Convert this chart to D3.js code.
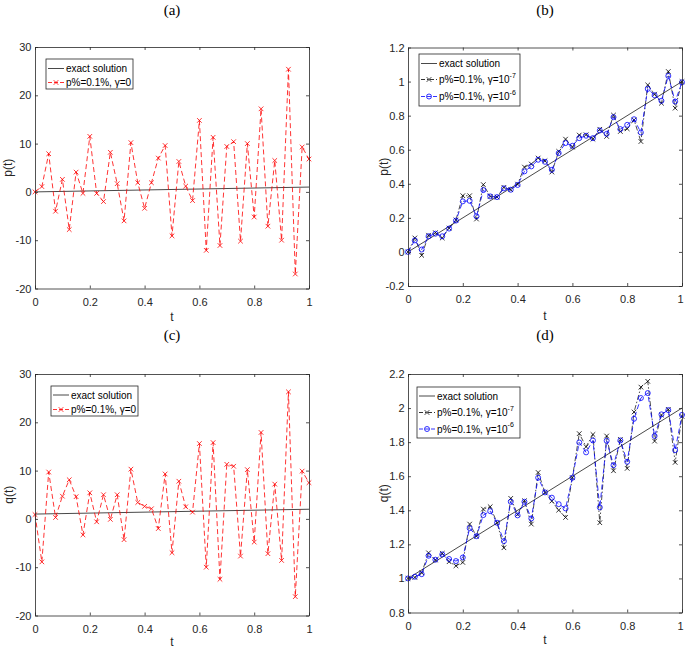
<!DOCTYPE html>
<html><head><meta charset="utf-8">
<script src="https://cdn.jsdelivr.net/npm/d3@7"></script>
<style>html,body{margin:0;padding:0;background:#fff}</style>
</head><body>
<svg id="chart" width="685" height="648"></svg>
<script>
// ---------------- DATA ----------------
const tValues = [0,0.025,0.05,0.075,0.1,0.125,0.15,0.175,0.2,0.225,0.25,0.275,0.3,0.325,0.35,0.375,0.4,0.425,0.45,0.475,0.5,
                 0.525,0.55,0.575,0.6,0.625,0.65,0.675,0.7,0.725,0.75,0.775,0.8,0.825,0.85,0.875,0.9,0.925,0.95,0.975,1];
const xTicks = [0,0.2,0.4,0.6,0.8,1];
const xTickLabels = ["0","0.2","0.4","0.6","0.8","1"];
const exactT = [0,1];
const exactP = [0,1];
const exactQ = [1,2];
// (a) p(t), p%=0.1%, gamma=0
const pNoReg = [0,1.1,7.9,-4.0,2.6,-7.8,4.1,-0.3,11.5,-0.3,-2.0,8.2,1.7,-6.0,10.2,1.9,-3.4,1.9,7.0,9.6,-9.1,
                6.3,1.2,-1.8,14.8,-12.1,11.3,-11.1,9.4,10.4,-10.2,10.0,-5.2,17.2,-7.1,6.5,-10.0,25.4,-17.0,9.3,6.8];
// (c) q(t), p%=0.1%, gamma=0
const qNoReg = [0.9,-8.9,9.7,0.3,4.7,8.1,4.6,-3.3,5.4,-0.6,5.0,-0.1,5.0,-4.3,10.3,3.4,2.6,2.1,-2.0,9.3,-7.0,
                7.8,2.5,1.4,15.6,-10.0,15.8,-12.5,11.3,10.9,-7.7,10.2,-4.8,17.9,-7.2,7.2,-8.6,26.3,-16.1,9.9,7.5];
// (b) p(t), gamma=1e-7 and 1e-6
const pGamma7 = [0,0.082,-0.02,0.098,0.113,0.082,0.14,0.188,0.33,0.33,0.193,0.395,0.326,0.322,0.379,0.365,0.398,0.498,0.516,
                 0.551,0.535,0.469,0.59,0.662,0.615,0.686,0.688,0.662,0.72,0.678,0.803,0.707,0.723,0.775,0.648,0.98,0.926,0.873,1.059,0.844,1.0];
const pGamma6 = [0,0.068,0.014,0.092,0.107,0.092,0.137,0.184,0.297,0.30,0.209,0.363,0.326,0.322,0.373,0.365,0.393,0.473,0.502,
                 0.541,0.529,0.482,0.58,0.639,0.623,0.668,0.682,0.668,0.713,0.693,0.791,0.721,0.746,0.779,0.701,0.957,0.92,0.887,1.033,0.883,0.996];
// (d) q(t), gamma=1e-7 and 1e-6
const qGamma7 = [1.0,1.006,1.033,1.15,1.108,1.147,1.098,1.074,1.094,1.319,1.248,1.407,1.421,1.327,1.18,1.47,1.376,1.456,
                 1.319,1.622,1.505,1.454,1.401,1.358,1.591,1.85,1.773,1.845,1.327,1.836,1.632,1.816,1.646,1.977,2.123,2.157,1.806,1.959,1.992,1.681,1.951];
const qGamma6 = [1.0,1.01,1.025,1.133,1.11,1.141,1.114,1.102,1.123,1.295,1.248,1.372,1.395,1.327,1.219,1.45,1.37,1.45,
                 1.352,1.591,1.505,1.474,1.436,1.411,1.591,1.798,1.74,1.81,1.417,1.808,1.665,1.81,1.685,1.937,2.059,2.088,1.836,1.963,1.988,1.753,1.96];
const yTicksA = [-20,-10,0,10,20,30];
const yTickLabelsA = ["-20","-10","0","10","20","30"];
const yTicksB = [-0.2,0,0.2,0.4,0.6,0.8,1,1.2];
const yTickLabelsB = ["-0.2","0","0.2","0.4","0.6","0.8","1","1.2"];
const yTicksD = [0.8,1,1.2,1.4,1.6,1.8,2,2.2];
const yTickLabelsD = ["0.8","1","1.2","1.4","1.6","1.8","2","2.2"];

// ---------------- DRAWING ----------------
const svg = d3.select("#chart");
const AX = "#262626";
const FONT = "'Liberation Sans', Arial, sans-serif";

function drawMarker(g, kind, cx, cy, color) {
  if (kind === "x") {
    const s = 2.3;
    g.append("path").attr("d", `M${cx-s},${cy-s}L${cx+s},${cy+s}M${cx-s},${cy+s}L${cx+s},${cy-s}`)
      .attr("stroke", color).attr("stroke-width", 0.8).attr("fill", "none");
  } else if (kind === "o") {
    g.append("circle").attr("cx", cx).attr("cy", cy).attr("r", 2.5)
      .attr("stroke", color).attr("stroke-width", 0.8).attr("fill", "none");
  }
}

function drawPanel(o) {
  const g = svg.append("g");
  const x = d3.scaleLinear().domain([0,1]).range([o.L, o.R]);
  const y = d3.scaleLinear().domain([o.yTicks[0], o.yTicks[o.yTicks.length-1]]).range([o.B, o.T]);

  g.append("rect").attr("x", o.L).attr("y", o.T).attr("width", o.R-o.L).attr("height", o.B-o.T).attr("fill", "#fff");

  const line = d3.line().x(d => x(d[0])).y(d => y(d[1]));
  o.series.forEach(s => {
    const pts = s.t.map((tv, i) => [tv, s.v[i]]);
    g.append("path").attr("d", line(pts)).attr("fill", "none")
      .attr("stroke", s.color).attr("stroke-width", s.width || 0.8)
      .attr("stroke-dasharray", s.dash || null);
    if (s.marker) pts.forEach(p => drawMarker(g, s.marker, x(p[0]), y(p[1]), s.color));
  });

  const style = sel => {
    sel.attr("color", AX).attr("font-family", FONT).attr("font-size", 11);
    sel.select(".domain").attr("stroke-width", 0.8);
    sel.selectAll(".tick line").attr("stroke-width", 0.8);
    sel.selectAll("text").attr("fill", AX);
  };
  const bx = g.append("g").attr("transform", `translate(0,${o.B})`)
    .call(d3.axisBottom(x).tickValues(xTicks).tickFormat((d,i) => xTickLabels[i]).tickSizeInner(-3).tickSizeOuter(0).tickPadding(9.5))
    .call(style);
  // keep the last label inside the page
  bx.selectAll(".tick text").filter(d => d === 1 && o.R > 680).attr("dx", -(o.R - 680));
  g.append("g").attr("transform", `translate(0,${o.T})`)
    .call(d3.axisTop(x).tickValues(xTicks).tickFormat("").tickSizeInner(-3).tickSizeOuter(0))
    .call(style);
  g.append("g").attr("transform", `translate(${o.L},0)`)
    .call(d3.axisLeft(y).tickValues(o.yTicks).tickFormat((d,i) => o.yLabels[i]).tickSizeInner(-3).tickSizeOuter(0).tickPadding(3.5))
    .call(style);
  g.append("g").attr("transform", `translate(${o.R},0)`)
    .call(d3.axisRight(y).tickValues(o.yTicks).tickFormat("").tickSizeInner(-3).tickSizeOuter(0))
    .call(style);

  g.append("text").attr("x", (o.L+o.R)/2).attr("y", o.tY).attr("text-anchor", "middle")
    .attr("font-family", FONT).attr("font-size", 12).attr("fill", AX).text("t");
  g.append("text").attr("transform", `translate(${o.yLabX},${(o.T+o.B)/2}) rotate(-90)`).attr("text-anchor", "middle")
    .attr("font-family", FONT).attr("font-size", 12).attr("fill", AX).text(o.yLabel);
  g.append("text").attr("x", (o.L+o.R)/2).attr("y", o.titleY).attr("text-anchor", "middle")
    .attr("font-family", "'Liberation Serif', 'DejaVu Serif', serif").attr("font-size", 15).attr("fill", "#000").text(o.title);

  const lg = svg.append("g");
  const lb = o.legend;
  lg.append("rect").attr("x", lb.x).attr("y", lb.y).attr("width", lb.w).attr("height", lb.h)
    .attr("fill", "#fff").attr("stroke", AX).attr("stroke-width", 0.8);
  lb.items.forEach((it, i) => {
    const cy = lb.rowY[i];
    lg.append("line").attr("x1", lb.x + 2).attr("x2", lb.x + 18).attr("y1", cy).attr("y2", cy)
      .attr("stroke", it.color).attr("stroke-width", it.width || 0.8).attr("stroke-dasharray", it.dash || null);
    if (it.marker) drawMarker(lg, it.marker, lb.x + 10, cy, it.color);
    const tx = lg.append("text").attr("x", lb.x + 20).attr("y", cy).attr("dy", "0.35em")
      .attr("font-family", FONT).attr("font-size", 10).attr("fill", "#000");
    tx.append("tspan").text(it.label);
    if (it.sup) {
      tx.append("tspan").attr("dy", "-0.75em").attr("font-size", 7).text(it.sup);
    }
  });
}

const RED = "#ff0000", BLUE = "#0000ff", BLK = "#000000";
const exactStyle = {color: "#1a1a1a", width: 0.8};

drawPanel({
  L: 35, R: 309, T: 47, B: 288.5, tY: 321, yLabX: 12, titleY: 15, title: "(a)", yLabel: "p(t)",
  yTicks: yTicksA, yLabels: yTickLabelsA,
  series: [
    {t: exactT, v: exactP, ...exactStyle},
    {t: tValues, v: pNoReg, color: RED, dash: "5,3", marker: "x"}
  ],
  legend: {x: 46, y: 59, w: 87, h: 30, rowY: [68.5, 82.5], items: [
    {label: "exact solution", ...exactStyle},
    {label: "p%=0.1%, γ=0", color: RED, dash: "4,2", marker: "x"}
  ]}
});
drawPanel({
  L: 408, R: 682, T: 47.5, B: 286, tY: 320, yLabX: 388, titleY: 15, title: "(b)", yLabel: "p(t)",
  yTicks: yTicksB, yLabels: yTickLabelsB,
  series: [
    {t: exactT, v: exactP, ...exactStyle},
    {t: tValues, v: pGamma7, color: BLK, dash: "5,2,1.5,2", marker: "x", width: 0.7},
    {t: tValues, v: pGamma6, color: BLUE, dash: "5,3", marker: "o", width: 0.8}
  ],
  legend: {x: 419, y: 54, w: 101, h: 52, rowY: [63.5, 79.5, 96.5], items: [
    {label: "exact solution", ...exactStyle},
    {label: "p%=0.1%, γ=10", sup: "-7", color: BLK, dash: "4,2,1,2", marker: "x"},
    {label: "p%=0.1%, γ=10", sup: "-6", color: BLUE, dash: "4,2", marker: "o"}
  ]}
});
drawPanel({
  L: 35, R: 309, T: 374, B: 615.5, tY: 645.5, yLabX: 12.5, titleY: 339.5, title: "(c)", yLabel: "q(t)",
  yTicks: yTicksA, yLabels: yTickLabelsA,
  series: [
    {t: exactT, v: exactQ, ...exactStyle},
    {t: tValues, v: qNoReg, color: RED, dash: "5,3", marker: "x"}
  ],
  legend: {x: 51, y: 386, w: 87, h: 30, rowY: [395, 409.5], items: [
    {label: "exact solution", ...exactStyle},
    {label: "p%=0.1%, γ=0", color: RED, dash: "4,2", marker: "x"}
  ]}
});
drawPanel({
  L: 408, R: 682, T: 374, B: 612.5, tY: 644, yLabX: 388, titleY: 339.5, title: "(d)", yLabel: "q(t)",
  yTicks: yTicksD, yLabels: yTickLabelsD,
  series: [
    {t: exactT, v: exactQ, ...exactStyle},
    {t: tValues, v: qGamma7, color: BLK, dash: "5,2,1.5,2", marker: "x", width: 0.7},
    {t: tValues, v: qGamma6, color: BLUE, dash: "5,3", marker: "o", width: 0.8}
  ],
  legend: {x: 417, y: 387, w: 103, h: 51, rowY: [396, 412.5, 429], items: [
    {label: "exact solution", ...exactStyle},
    {label: "p%=0.1%, γ=10", sup: "-7", color: BLK, dash: "4,2,1,2", marker: "x"},
    {label: "p%=0.1%, γ=10", sup: "-6", color: BLUE, dash: "4,2", marker: "o"}
  ]}
});
</script>
</body></html>
